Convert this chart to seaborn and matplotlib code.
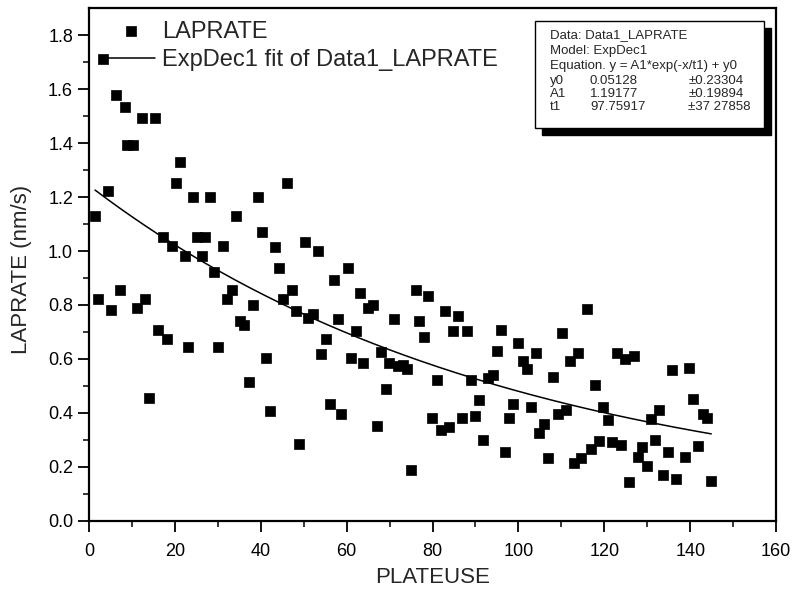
import matplotlib
matplotlib.use("Agg")
from matplotlib import pyplot as plt
from matplotlib.patches import Rectangle
import numpy as np
import pandas as pd
import seaborn as sns

# data
plateuse = [1.4, 2.2, 3.3, 4.5, 5.1, 6.3, 7.1, 8.4, 8.9, 10.3, 11.1, 12.3, 13.0, 14.0, 15.4, 16.1,
            17.2, 18.1, 19.3, 20.3, 21.2, 22.4, 23.1, 24.3, 25.1, 26.2, 27.0, 28.2, 29.1, 30.1,
            31.3, 32.1, 33.2, 34.2, 35.2, 36.1, 37.3, 38.1, 39.4, 40.2, 41.2, 42.2, 43.3, 44.2,
            45.1, 46.2, 47.2, 48.2, 49.0, 50.3, 51.1, 52.1, 53.3, 54.0, 55.2, 56.1, 57.1, 57.9,
            58.7, 60.2, 61.0, 62.1, 63.1, 63.9, 65.0, 66.1, 67.0, 68.0, 69.1, 69.9, 71.0, 72.0,
            73.1, 74.0, 74.9, 76.2, 76.9, 78.1, 79.0, 79.9, 81.0, 82.0, 82.9, 83.8, 84.8, 86.0,
            86.9, 88.0, 89.0, 89.9, 90.9, 91.8, 93.0, 94.0, 94.9, 95.9, 96.9, 97.8, 98.8, 100.0,
            101.0, 101.9, 102.9, 104.0, 104.9, 106.0, 106.8, 108.0, 109.1, 110.1, 111.0, 112.1,
            112.9, 113.9, 114.6, 116.0, 116.9, 117.8, 118.8, 119.8, 120.9, 121.9, 122.9, 123.9,
            124.8, 125.8, 126.9, 127.8, 128.7, 129.9, 130.8, 131.8, 132.8, 133.7, 134.8, 135.8,
            136.7, 138.8, 139.8, 140.7, 141.8, 142.9, 143.8, 144.9]
laprate = [1.131, 0.823, 1.711, 1.224, 0.780, 1.578, 0.856, 1.535, 1.394, 1.394, 0.790, 1.495,
           0.823, 0.455, 1.495, 0.706, 1.051, 0.672, 1.017, 1.251, 1.329, 0.980, 0.644, 1.202,
           1.051, 0.980, 1.051, 1.202, 0.922, 0.644, 1.017, 0.821, 0.856, 1.131, 0.740, 0.724,
           0.514, 0.798, 1.202, 1.070, 0.605, 0.407, 1.014, 0.936, 0.821, 1.251, 0.856, 0.777,
           0.286, 1.033, 0.753, 0.768, 0.999, 0.617, 0.672, 0.432, 0.893, 0.749, 0.395, 0.936,
           0.605, 0.702, 0.844, 0.583, 0.790, 0.801, 0.352, 0.625, 0.490, 0.583, 0.749, 0.573,
           0.576, 0.564, 0.188, 0.854, 0.739, 0.680, 0.832, 0.379, 0.523, 0.338, 0.776, 0.346,
           0.703, 0.758, 0.381, 0.703, 0.523, 0.387, 0.449, 0.299, 0.529, 0.539, 0.629, 0.709,
           0.255, 0.381, 0.434, 0.659, 0.592, 0.564, 0.422, 0.622, 0.326, 0.358, 0.231, 0.533,
           0.397, 0.696, 0.410, 0.594, 0.215, 0.622, 0.231, 0.786, 0.265, 0.502, 0.296, 0.420,
           0.373, 0.292, 0.623, 0.280, 0.601, 0.144, 0.610, 0.237, 0.272, 0.204, 0.376, 0.299,
           0.410, 0.169, 0.253, 0.558, 0.153, 0.237, 0.568, 0.450, 0.278, 0.397, 0.379, 0.147]

# ExpDec1 fit parameters as printed in the box
fit_names = ["y0", "A1", "t1"]
fit_values = [0.05128, 1.19177, 97.75917]
fit_errors = ["\u00b10.23304", "\u00b10.19894", "\u00b137 27858"]

xticks = [0, 20, 40, 60, 80, 100, 120, 140, 160]
yticks = [0.0, 0.2, 0.4, 0.6, 0.8, 1.0, 1.2, 1.4, 1.6, 1.8]

sns.set_theme(style="ticks")
plt.rcParams['font.family'] = ['Liberation Sans', 'DejaVu Sans']

df = pd.DataFrame({'PLATEUSE': plateuse, 'LAPRATE': laprate})
y0, a1, t1 = fit_values
fit = pd.DataFrame({'x': np.linspace(min(plateuse), max(plateuse), 200)})
fit['y'] = y0 + a1 * np.exp(-fit['x'] / t1)

fig = plt.figure(figsize=(7.95, 5.94), dpi=100)
ax = fig.add_axes([0.112, 0.1234, 0.8642, 0.8626])

sns.scatterplot(data=df, x='PLATEUSE', y='LAPRATE', ax=ax, marker='s', s=42,
                color='black', edgecolor='black', linewidth=0.5, label='LAPRATE', zorder=3)
sns.lineplot(data=fit, x='x', y='y', ax=ax, color='black', linewidth=1.1,
             label='ExpDec1 fit of Data1_LAPRATE', zorder=2)

ax.set_xlim(0, 160)
ax.set_ylim(0, 1.9)
ax.set_xticks(xticks)
ax.set_yticks(yticks)
ax.set_xticks(np.arange(10, 160, 20), minor=True)
ax.set_yticks(np.arange(0.1, 1.9, 0.2), minor=True)
ax.set_xticklabels([str(t) for t in xticks])
ax.set_yticklabels(['%.1f' % t for t in yticks])
ax.tick_params(which='major', direction='out', length=8, width=1.3, labelsize=13, colors='black')
ax.tick_params(which='minor', direction='out', length=4, width=1.3)
ax.tick_params(axis='x', pad=8)
for sp in ax.spines.values():
    sp.set_visible(True)
    sp.set_linewidth(1.6)
    sp.set_color('black')

ax.set_xlabel('PLATEUSE', fontsize=16, labelpad=5)
ax.set_ylabel('LAPRATE (nm/s)', fontsize=16)
ax.yaxis.set_label_coords(-0.083, 0.49)

leg = ax.legend(loc='upper left', bbox_to_anchor=(0.027, 0.976), frameon=False,
                fontsize=17, handlelength=2.0, handletextpad=0.3, labelspacing=0.28,
                borderpad=0, borderaxespad=0, markerscale=1.0)

# parameter box with drop shadow
bx, by, bw, bh = 0.649, 0.7658, 0.3335, 0.21
ax.add_patch(Rectangle((bx + 0.0102, by - 0.0137), bw, bh, transform=ax.transAxes,
                       facecolor='black', edgecolor='black', zorder=4))
ax.add_patch(Rectangle((bx, by), bw, bh, transform=ax.transAxes,
                       facecolor='white', edgecolor='black', linewidth=1.0, zorder=5))
lines = ["Data: Data1_LAPRATE", "Model: ExpDec1", "Equation. y = A1*exp(-x/t1) + y0"]
rows_y = [0.948, 0.916, 0.887, 0.858, 0.833, 0.808]
for i, t in enumerate(lines):
    ax.text(0.671, rows_y[i], t, transform=ax.transAxes, fontsize=9.5, va='center', zorder=6)
for i, (n, v, e) in enumerate(zip(fit_names, fit_values, fit_errors)):
    ax.text(0.671, rows_y[3 + i], n, transform=ax.transAxes, fontsize=9.5, va='center', zorder=6)
    ax.text(0.729, rows_y[3 + i], '%.5f' % v, transform=ax.transAxes, fontsize=9.5, va='center', zorder=6)
    ax.text(0.872, rows_y[3 + i], e, transform=ax.transAxes, fontsize=9.5, va='center', zorder=6)

plt.savefig('out.png', dpi=100)
